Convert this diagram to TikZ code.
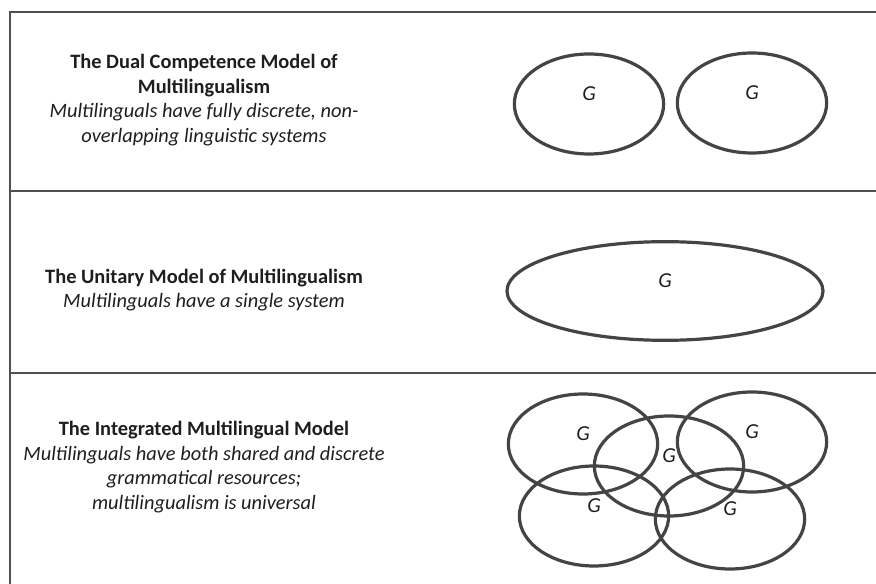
\documentclass[tikz,border=0pt]{standalone}
\usepackage{fontspec}
\setmainfont{Carlito}
\usetikzlibrary{
  positioning,
  shapes.geometric
}
\definecolor{mmFrame}{RGB}{80,80,80}
\definecolor{mmInk}{RGB}{68,68,68}
\definecolor{mmText}{RGB}{30,30,30}
\tikzset{
  mmframe/.style={
    draw=mmFrame,
    line width=2pt
  },
  mmsys/.style={
    ellipse,
    draw=mmInk,
    line width=2.4pt,
    inner sep=0pt,
    minimum width=112pt,
    minimum height=75pt
  },
  mmg/.style={
    font=\fontsize{16}{18}\selectfont\itshape,
    text=mmText,
    inner sep=0pt
  },
  mmlabel/.style={
    align=center,
    text=mmText,
    inner sep=0pt,
    font=\fontsize{15.3}{18.4}\selectfont
  }
}
\begin{document}
\begin{tikzpicture}[x=0.75pt, y=-0.75pt]
  \useasboundingbox (0,0) rectangle (876,584);

  % frame
  \draw[mmframe] (10,584) -- (10,12) -- (876,12);
  \draw[mmframe] (10,191) -- (876,191);
  \draw[mmframe] (10,373) -- (876,373);

  % row 1
  \node[mmlabel] (dualtxt) at (204,100)
    {\textbf{The Dual Competence Model of}\\\textbf{Multilingualism}\\
     \textit{Multilinguals have fully discrete, non-}\\\textit{overlapping linguistic systems}};
  \node[mmsys] (dual1) at (589,104) {};
  \node[mmsys] (dual2) at (752,103) {};
  \node[mmg] (gdual1) at ([yshift=7.5pt]dual1.center) {G};
  \node[mmg] (gdual2) at ([yshift=7.5pt]dual2.center) {G};

  % row 2
  \node[mmlabel] (unitxt) at (204,290)
    {\textbf{The Unitary Model of Multilingualism}\\\textit{Multilinguals have a single system}};
  \node[mmsys, minimum width=237pt, minimum height=74pt] (uni) at (665,291) {};
  \node[mmg] (guni) at ([yshift=7.5pt]uni.center) {G};

  % row 3
  \node[mmlabel] (inttxt) at (204,467)
    {\textbf{The Integrated Multilingual Model}\\\textit{Multilinguals have both shared and discrete}\\
     \textit{grammatical resources;}\\\textit{multilingualism is universal}};
  \node[mmsys] (intTL) at (583,444) {};
  \node[mmsys] (intBL) at (594,516) {};
  \node[mmsys] (intMid) at (669,466) {};
  \node[mmsys] (intTR) at (752,442) {};
  \node[mmsys] (intBR) at (730,519) {};
  \foreach \e in {intTL,intBL,intMid,intTR,intBR}
    \node[mmg] (g\e) at ([yshift=8pt]\e.center) {G};
\end{tikzpicture}
\end{document}
